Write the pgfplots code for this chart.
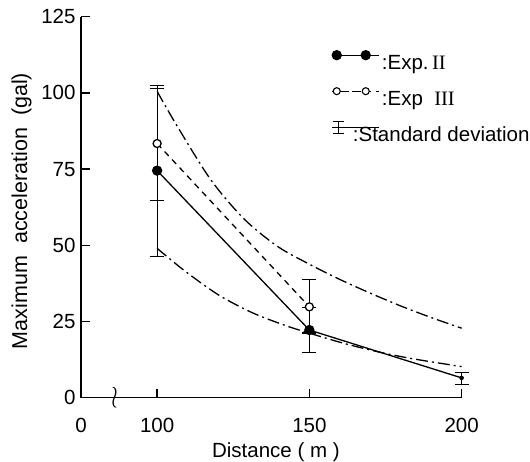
\documentclass[border=0pt]{standalone}
\usepackage{pgfplots}
\pgfplotsset{compat=1.18}
\usepackage{fontspec}
\setmainfont{Liberation Sans}
\newfontfamily\serifnum{Liberation Serif}

\pgfplotsset{twomark legend/.style={legend image code/.code={\path (-4.5pt,0pt) -- (42.5pt,0pt); \draw[##1] plot coordinates {(0pt,0pt) (29pt,0pt)};}}}
\newcommand{\rowstrut}{\rule{0pt}{30.5pt}}

\pgfplotstableread{
x y ep em
100 74.5 28.0 28.2
150 22.2 7.3 7.3
200 6.5 1.7 2.3
}\expII
\pgfplotstableread{
x y ep em
100 83.4 18.1 18.6
150 29.8 9.0 8.6
}\expIII
\pgfplotstableread{
x y
100 100.5
106.7 88.9
117.7 71.4
128.6 58.6
139.6 49.6
150 43.8
160 38.8
170 34.3
180 30.1
190 26.3
200 22.8
}\uppercurve
\pgfplotstableread{
x y
100 49.0
109.2 41.5
120.2 33.7
131.2 27.9
142.1 23.7
150.9 20.9
161.8 17.7
172.8 15.0
183.8 12.8
200 10.2
}\lowercurve

\begin{document}
\begin{tikzpicture}[font=\fontsize{20.5}{24}\selectfont]
\useasboundingbox (0,0) rectangle (530pt,462pt);
\begin{axis}[
  at={(81pt,64.3pt)}, anchor=south west,
  scale only axis, width=380.6pt, height=381pt,
  xmin=75, xmax=200, ymin=0, ymax=125,
  axis x line*=bottom, axis y line*=left,
  axis line style={-, line width=1.5pt},
  xtick pos=left, ytick pos=left,
  tick align=inside, major tick length=9pt,
  tick style={line width=1.5pt, black},
  xtick={75,100,150,200}, xticklabels={0,100,150,200},
  ytick={0,25,50,75,100,125},
  /pgf/number format/assume math mode=true,
  xticklabel style={yshift=-17pt},
  yticklabel style={xshift=-2pt},
  xlabel={Distance ( m )},
  ylabel={\fontsize{21.5}{24}\selectfont Maximum\hspace{12pt}acceleration\hspace{12pt}(gal)},
  xlabel style={at={(axis description cs:0.512,-0.143)}, anchor=center},
  ylabel style={at={(axis description cs:-0.156,0.490)}, anchor=center},
  clip=false,
  legend style={draw=none, fill=none, at={(axis description cs:0.650,0.952)},
    anchor=north west, font=\fontsize{20.5}{24}\selectfont},
  legend cell align=left,
]
% error bars first, so that the marks cover them
\addplot[only marks, mark=none, forget plot,
  error bars/.cd, y dir=both, y explicit,
  error bar style={line width=1.2pt, solid, black},
  error mark options={rotate=90, mark size=7pt, line width=1.2pt, black}]
  table[x=x, y=y, y error plus=ep, y error minus=em] {\expII};
\addplot[only marks, mark=none, forget plot,
  error bars/.cd, y dir=both, y explicit,
  error bar style={line width=1.2pt, solid, black},
  error mark options={rotate=90, mark size=7pt, line width=1.2pt, black}]
  table[x=x, y=y, y error plus=ep, y error minus=em] {\expIII};
\addplot[black, line width=1.3pt, smooth, dash pattern=on 12pt off 4pt on 2pt off 4pt, forget plot] table[x=x,y=y] {\uppercurve};
\addplot[black, line width=1.3pt, smooth, dash pattern=on 12pt off 4pt on 2pt off 4pt, forget plot] table[x=x,y=y] {\lowercurve};
\addplot[black, line width=1.3pt, mark=*, mark indices={1,2}, mark size=4.5pt,
  twomark legend] table[x=x, y=y] {\expII};
\addlegendentry{\rowstrut:Exp.\,{\serifnum II}}
\addplot[black, line width=1.3pt, dash pattern=on 6pt off 5pt, mark=*, mark size=4pt,
  mark options={solid, fill=white},
  legend image code/.code={\path (-4.5pt,0pt) -- (42.5pt,0pt); \draw[black, line width=1.2pt, dash pattern=on 3pt off 3pt] (3.5pt,0pt) -- (25.5pt,0pt); \draw[black, solid, line width=1.1pt, fill=white] (0pt,0pt) circle (3.5pt) (29pt,0pt) circle (3.5pt);}]
  table[x=x, y=y] {\expIII};
\addlegendentry{\rowstrut:Exp\ \ {\serifnum III}}
\addlegendimage{legend image code/.code={\path (-4.5pt,0pt) -- (42.5pt,0pt); \draw[solid, line width=1.1pt] (1.5pt,-6pt) -- (1.5pt,6pt) (-4pt,6pt) -- (7pt,6pt) (-4pt,-6pt) -- (7pt,-6pt);}}
\addlegendentry{\rowstrut\hspace*{-29pt}:Standard deviation}
% axis tick strokes
\draw[line width=1.5pt] (axis cs:75,25) -- ++(9pt,0pt) (axis cs:75,50) -- ++(9pt,0pt)
  (axis cs:75,75) -- ++(9pt,0pt) (axis cs:75,100) -- ++(9pt,0pt) (axis cs:75,125) -- ++(8pt,0pt);
\draw[line width=1.5pt] (axis cs:100,0) -- ++(0pt,6pt) (axis cs:150,0) -- ++(0pt,6pt) (axis cs:200,0) -- ++(0pt,6pt);
\node[inner sep=0pt] at (axis cs:86.3,0) {\scalebox{1.2}[1.5]{$\wr$}};
\end{axis}
\end{tikzpicture}
\end{document}
